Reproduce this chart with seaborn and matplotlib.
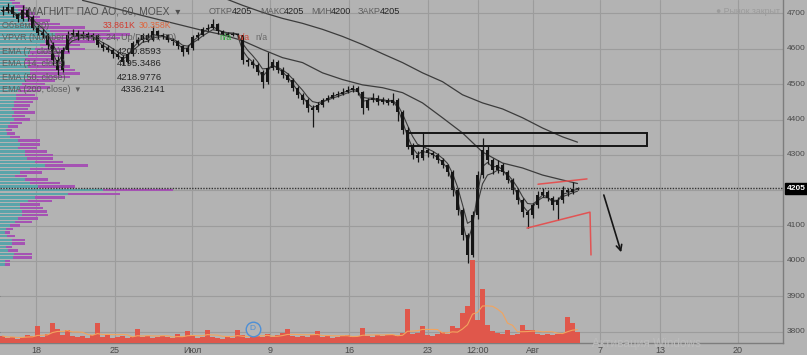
import numpy as np
import pandas as pd
import matplotlib
matplotlib.use("Agg")
import matplotlib.pyplot as plt
import seaborn as sns
from matplotlib.patches import Rectangle
from matplotlib.ticker import NullFormatter

# ---------------- data (hourly bars aggregated) ----------------
close = [4706, 4717, 4697, 4683, 4711, 4689, 4660, 4646, 4640, 4612,
         4569, 4541, 4598, 4640, 4646, 4635, 4643, 4632, 4638, 4612,
         4603, 4598, 4584, 4578, 4564, 4584, 4615, 4626, 4640, 4626,
         4649, 4635, 4638, 4626, 4621, 4609, 4592, 4603, 4632, 4640,
         4655, 4660, 4669, 4649, 4643, 4640, 4643, 4638, 4569, 4564,
         4555, 4535, 4507, 4547, 4564, 4541, 4527, 4513, 4490, 4470,
         4456, 4433, 4427, 4442, 4456, 4462, 4470, 4473, 4479, 4484,
         4490, 4479, 4433, 4456, 4462, 4450, 4456, 4447, 4456, 4422,
         4371, 4328, 4300, 4291, 4314, 4305, 4300, 4286, 4271, 4251,
         4200, 4144, 4073, 4016, 4129, 4243, 4314, 4286, 4257, 4271,
         4251, 4229, 4200, 4172, 4138, 4129, 4158, 4186, 4195, 4178,
         4158, 4172, 4200, 4195, 4203, 4205]
high = [4720, 4730, 4722, 4702, 4725, 4715, 4695, 4668, 4655, 4645,
        4618, 4580, 4605, 4650, 4655, 4652, 4650, 4648, 4645, 4642,
        4618, 4610, 4602, 4590, 4582, 4590, 4622, 4632, 4646, 4645,
        4665, 4652, 4645, 4642, 4630, 4625, 4612, 4610, 4640, 4648,
        4662, 4670, 4685, 4672, 4652, 4648, 4648, 4646, 4640, 4575,
        4570, 4560, 4540, 4592, 4572, 4568, 4548, 4532, 4518, 4495,
        4475, 4462, 4440, 4450, 4462, 4470, 4478, 4482, 4488, 4494,
        4498, 4495, 4482, 4462, 4475, 4468, 4465, 4462, 4475, 4460,
        4428, 4378, 4335, 4310, 4365, 4320, 4312, 4305, 4290, 4275,
        4258, 4205, 4150, 4080, 4140, 4255, 4348, 4325, 4292, 4285,
        4278, 4258, 4235, 4205, 4178, 4145, 4165, 4198, 4205, 4200,
        4185, 4180, 4212, 4205, 4222, 4210]
low = [4695, 4700, 4690, 4675, 4678, 4680, 4652, 4638, 4630, 4600,
       4555, 4525, 4535, 4592, 4635, 4625, 4628, 4625, 4625, 4605,
       4595, 4590, 4575, 4570, 4553, 4558, 4580, 4610, 4620, 4618,
       4622, 4628, 4628, 4618, 4612, 4600, 4580, 4585, 4598, 4626,
       4635, 4650, 4655, 4642, 4638, 4635, 4636, 4630, 4558, 4552,
       4545, 4525, 4490, 4500, 4540, 4532, 4518, 4505, 4480, 4460,
       4445, 4420, 4380, 4420, 4436, 4450, 4458, 4465, 4468, 4475,
       4478, 4470, 4415, 4428, 4450, 4440, 4445, 4440, 4442, 4395,
       4360, 4318, 4288, 4280, 4285, 4295, 4292, 4278, 4262, 4240,
       4185, 4130, 4060, 3993, 4010, 4120, 4235, 4275, 4245, 4250,
       4242, 4220, 4190, 4160, 4125, 4093, 4122, 4150, 4180, 4170,
       4145, 4115, 4165, 4185, 4190, 4200]
volume = [7, 5, 6, 4, 6, 8, 7, 17, 6, 9,
          20, 14, 8, 13, 7, 6, 7, 5, 8, 20,
          6, 8, 5, 6, 7, 5, 6, 14, 6, 7,
          5, 6, 7, 6, 5, 9, 6, 12, 8, 5,
          6, 13, 6, 5, 4, 6, 5, 13, 8, 5,
          6, 7, 6, 9, 6, 8, 10, 14, 7, 6,
          7, 6, 8, 12, 6, 7, 5, 6, 7, 8,
          6, 7, 15, 7, 6, 8, 7, 8, 8, 7,
          10, 34, 9, 10, 17, 8, 7, 9, 11, 9,
          17, 15, 30, 37, 83, 23, 54, 18, 12, 10,
          9, 13, 8, 9, 18, 13, 13, 9, 8, 9,
          8, 9, 10, 26, 20, 11]

ema50_bar = [16, 20, 24, 28, 32, 36, 40, 44, 48, 52, 56, 60, 64, 68, 72, 76,
             80, 84, 88, 92, 96, 100, 104, 108, 112, 115]
ema50_val = [4737, 4723, 4709, 4694, 4680, 4666, 4652, 4640, 4623, 4598, 4575,
             4561, 4532, 4513, 4498, 4490, 4476, 4447, 4405, 4362, 4308, 4277,
             4263, 4243, 4229, 4219]
ema200_bar = [44, 48, 52, 56, 60, 64, 68, 72, 76, 80, 84, 88, 92, 96, 100,
              104, 108, 112, 115]
ema200_val = [4745, 4723, 4703, 4686, 4672, 4655, 4635, 4612, 4586, 4561,
              4532, 4507, 4470, 4447, 4430, 4405, 4376, 4351, 4336]

prof_price = [4740, 4730, 4720, 4710, 4700, 4690, 4680, 4670, 4660, 4650,
              4640, 4630, 4620, 4610, 4600, 4590, 4580, 4570, 4560, 4550,
              4540, 4530, 4520, 4510, 4500, 4490, 4480, 4470, 4460, 4450,
              4440, 4430, 4420, 4410, 4400, 4390, 4380, 4370, 4360, 4350,
              4340, 4330, 4320, 4310, 4300, 4290, 4280, 4270, 4260, 4250,
              4240, 4230, 4220, 4210, 4200, 4190, 4180, 4170, 4160, 4150,
              4140, 4130, 4120, 4110, 4100, 4090, 4080, 4070, 4060, 4050,
              4040, 4030, 4020, 4010, 4000, 3990]
prof_total = [15, 20, 25, 30, 35, 40, 50, 60, 85, 110,
              130, 120, 95, 80, 85, 70, 60, 55, 65, 70,
              75, 80, 70, 55, 45, 50, 40, 35, 38, 33,
              30, 28, 35, 25, 30, 22, 18, 12, 15, 20,
              40, 40, 37, 47, 53, 53, 63, 88, 65, 42,
              27, 48, 60, 75, 173, 120, 65, 52, 40, 43,
              47, 48, 38, 32, 20, 13, 10, 15, 25, 25,
              12, 18, 32, 32, 10, 10]
prof_up = [10, 12, 15, 18, 20, 22, 28, 30, 40, 50,
           55, 50, 45, 40, 35, 30, 28, 25, 25, 28,
           30, 30, 28, 25, 22, 20, 18, 16, 16, 14,
           14, 12, 14, 12, 14, 10, 8, 6, 7, 10,
           18, 20, 18, 25, 25, 27, 35, 45, 30, 20,
           15, 25, 30, 38, 103, 68, 35, 28, 20, 20,
           22, 22, 18, 15, 10, 6, 5, 7, 12, 12,
           6, 8, 14, 13, 5, 5]

date_pos = [6.7, 22.5, 37.9, 53.5, 69.3, 85.1, 95.1, 106.1, 119.5, 131.5, 147.1]
date_labels = ["18", "25", "Июл", "9", "16", "23", "12:00", "Авг", "7", "13", "20"]
price_ticks = [3800, 3900, 4000, 4100, 4200, 4300, 4400, 4500, 4600, 4700]
last_price = 4205
dividend_bar = [50]

# drawings
zone = (80.9, 128.9, 4326, 4362)
upper_red = ([107.1, 116.9], [4217, 4232])
lower_red = ([104.9, 117.5, 117.7], [4093, 4138, 4017])
arrow = ((120.1, 4194), (123.9, 4017))

# ---------------- style ----------------
BG = "#b3b3b3"
GRID = "#9c9c9c"
TEAL = "#5aa4aa"
PURPLE = "#a553b3"
VOLRED = "#e0574b"
RED = "#e25353"
DARK = "#151515"
EMA_C = "#3c3c3c"

sns.set_style("white", rc={"axes.facecolor": BG, "figure.facecolor": BG})
plt.rcParams["font.family"] = ["Liberation Sans", "DejaVu Sans"]

W, H = 807, 355
fig = plt.figure(figsize=(W / 100, H / 100), dpi=100)
fig.patch.set_facecolor(BG)
ax = fig.add_axes([0, 12 / H, 783 / W, 343 / H])
ax.set_facecolor(BG)
ax.set_xlim(-0.5, 156.1)
ax.set_ylim(3768, 4738)

ax.set_xticks(date_pos)
ax.set_xticklabels(date_labels)
ax.set_yticks(price_ticks)
ax.yaxis.set_major_formatter(NullFormatter())
ax.tick_params(axis="y", left=False, labelleft=False, right=True, labelright=False,
               length=3, color="#7a7a7a")
ax.tick_params(axis="x", length=1.5, color="#7a7a7a", labelsize=6.5, labelcolor="#4a4a4a", pad=0.5)
ax.grid(True, color=GRID, lw=0.8)
ax.set_axisbelow(True)
for s in ["left", "top"]:
    ax.spines[s].set_visible(False)
for s in ["right", "bottom"]:
    ax.spines[s].set_color("#7d7d7d")
    ax.spines[s].set_linewidth(1)

# right price scale labels
for p in price_ticks:
    if p == 4200:
        continue  # hidden behind the last-price marker
    ax.annotate(str(p), xy=(1, p), xycoords=("axes fraction", "data"),
                xytext=(3, 0), textcoords="offset points", ha="left", va="center",
                fontsize=6, color="#4a4a4a", annotation_clip=False)

idx = np.arange(len(close))
px_to_bar = (156.1 + 0.5) / 783.0

# volume profile (VPVR)
ax.barh(prof_price, np.array(prof_total) * px_to_bar, left=-0.5, height=7,
        color=PURPLE, zorder=1, linewidth=0)
ax.barh(prof_price, np.array(prof_up) * px_to_bar, left=-0.5, height=7,
        color=TEAL, zorder=1.1, linewidth=0)

# candles
opens = [close[0]] + close[:-1]
o = np.array(opens, float)
c = np.array(close, float)
ax.vlines(idx, low, high, color=DARK, lw=0.9, zorder=4)
body_bot = np.minimum(o, c)
body_h = np.maximum(np.abs(c - o), 2.5)
ax.bar(idx, body_h, bottom=body_bot, width=0.62, color=DARK, zorder=4, linewidth=0)

# EMAs
s = pd.Series(close, dtype=float)
ema7 = s.ewm(span=7 / 3.16, adjust=False).mean()
ema14 = s.ewm(span=14 / 3.16, adjust=False).mean()
sns.lineplot(x=idx, y=ema7.values, ax=ax, color=EMA_C, linewidth=0.8, zorder=3,
             estimator=None, sort=False)
sns.lineplot(x=idx, y=ema14.values, ax=ax, color=EMA_C, linewidth=0.8, zorder=3,
             estimator=None, sort=False)
sns.lineplot(x=ema50_bar, y=ema50_val, ax=ax, color=EMA_C, linewidth=0.9, zorder=3,
             estimator=None, sort=False)
sns.lineplot(x=ema200_bar, y=ema200_val, ax=ax, color=EMA_C, linewidth=0.9, zorder=3,
             estimator=None, sort=False)

# drawings
ax.add_patch(Rectangle((zone[0], zone[2]), zone[1] - zone[0], zone[3] - zone[2],
                       fill=False, ec=DARK, lw=1.4, zorder=5))
ax.plot(*upper_red, color=RED, lw=1.1, zorder=5)
ax.plot(*lower_red, color=RED, lw=1.1, zorder=5)
ax.annotate("", xy=arrow[1], xytext=arrow[0],
            arrowprops=dict(arrowstyle="->", color=DARK, lw=1.2, mutation_scale=10), zorder=5)
ax.axhline(last_price, color="#333333", lw=1.0, ls=(0, (1, 1)), zorder=6)
ax.annotate(str(last_price), xy=(1, last_price), xycoords=("axes fraction", "data"),
            xytext=(2.5, 0), textcoords="offset points", ha="left", va="center",
            fontsize=6, color="white", fontweight="bold",
            bbox=dict(boxstyle="square,pad=0.2", fc="black", ec="black"), annotation_clip=False)

# volume
axv = ax.twinx()
axv.set_ylim(0, 343)
axv.set_yticks([])
axv.tick_params(axis="y", left=False, right=False, labelleft=False, labelright=False)
for sp in axv.spines.values():
    sp.set_visible(False)
axv.bar(idx, volume, width=1.0, color=VOLRED, linewidth=0, zorder=2)
vol_ma = pd.Series(volume, dtype=float).rolling(7, min_periods=1).mean()
sns.lineplot(x=idx, y=vol_ma.values, ax=axv, color="#f2a45e", linewidth=0.8,
             estimator=None, sort=False, zorder=3)
for b in dividend_bar:
    axv.scatter([b], [14], s=110, facecolor=BG, edgecolor="#4d8fd6", linewidth=1.0, zorder=4)
    axv.text(b, 14, "D", ha="center", va="center", fontsize=6, color="#4d8fd6", zorder=5)
axv.set_ylabel("")

# ---------------- legend / header texts ----------------
def T(x, y, s, **kw):
    kw.setdefault("va", "center")
    fig.text(x / W, 1 - y / H, s, **kw)

T(24, 12, "\"МАГНИТ\" ПАО АО, 60, MOEX  ▾", fontsize=7.4, color="#505050")
hdr = [(209, "ОТКР", "#606060"), (232, "4205", "#262626"), (260, "МАКС", "#606060"),
       (284, "4205", "#262626"), (311, "МИН", "#606060"), (331, "4200", "#262626"),
       (358, "ЗАКР", "#606060"), (380, "4205", "#262626")]
for x, t, col in hdr:
    T(x, 12, t, fontsize=6.6, color=col)

T(2, 25, "Объём (20)", fontsize=6.5, color="#5c5c5c")
T(103, 25, "33.861K", fontsize=6.3, color="#d23a2e")
T(139, 25, "30.358K", fontsize=6.3, color="#e0663c")
T(2, 38, "VPVR (Number Of Rows, 24, Up/Down, 70)", fontsize=6.5, color="#5c5c5c")
rows = [(51, "EMA (7, close)", "4200.8593"), (63, "EMA (14, close)", "4195.3486"),
        (77, "EMA (50, close)", "4218.9776"), (90, "EMA (200, close)  ▾", "4336.2141")]
for y, lab, val in rows:
    T(2, y, lab, fontsize=6.5, color="#5c5c5c")
    T(117 if y < 85 else 121, y, val, fontsize=6.8, color="#262626")
T(219, 38, "n/a", fontsize=6.3, color="#2fa83a")
T(237, 38, "n/a", fontsize=6.3, color="#d24a3c")
T(255, 38, "n/a", fontsize=6.3, color="#6a6a6a")
T(780, 11, "● Рынок закрыт", fontsize=6.3, color="#9b9b9b", ha="right")
T(592, 344, "Активация Windows", fontsize=8.5, color="#bcbcbc")

fig.savefig("out.png", dpi=100, facecolor=BG)
